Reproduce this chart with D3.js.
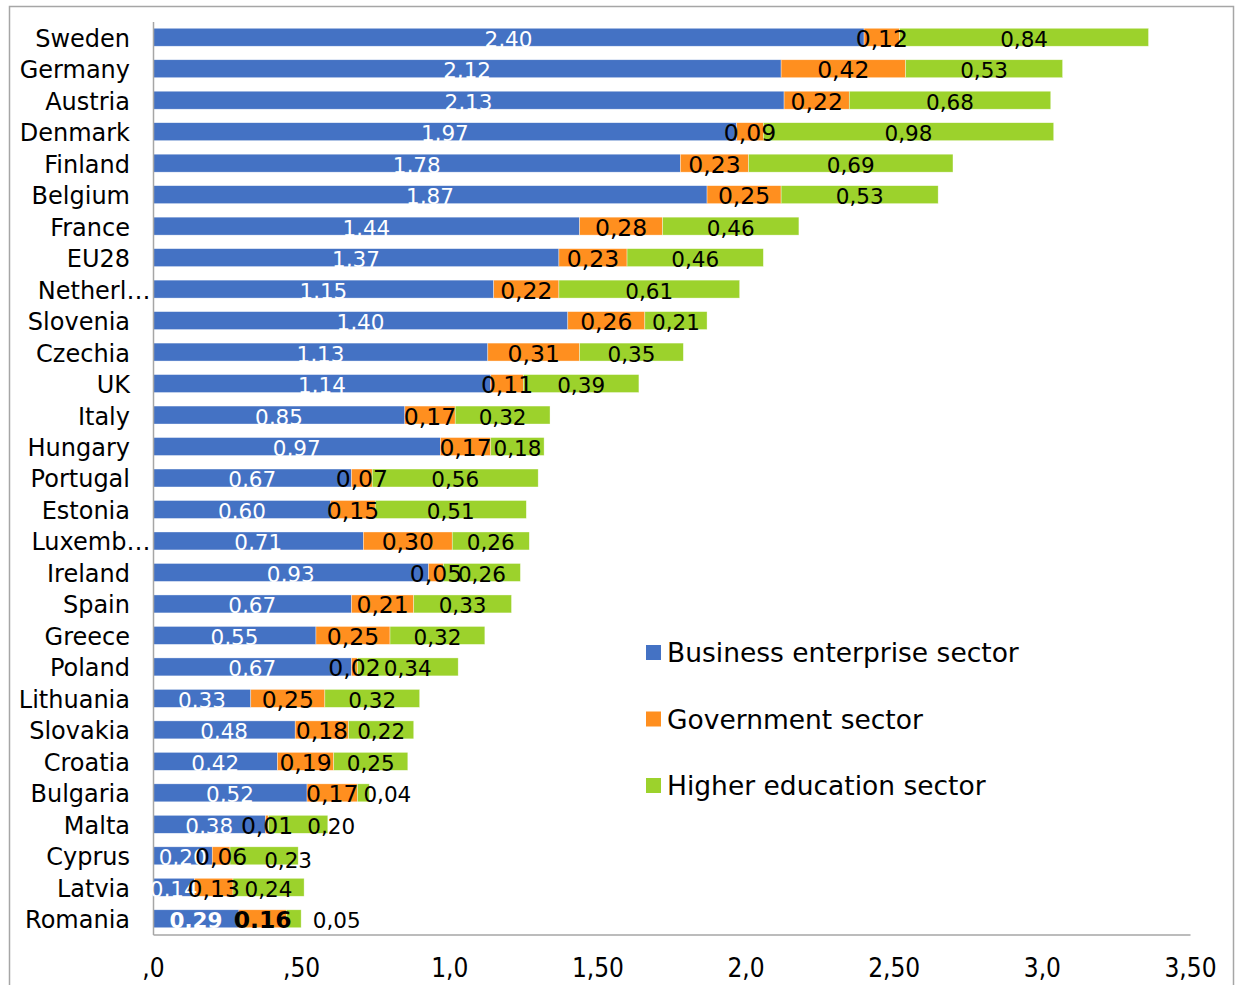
<!DOCTYPE html>
<html>
<head>
<meta charset="utf-8">
<script src="https://cdn.jsdelivr.net/npm/d3@7"></script>
<style>
  html, body { margin: 0; padding: 0; background: #fff; }
  svg { display: block; }
</style>
</head>
<body>
<svg id="chart" width="1237" height="985"></svg>
<script>
const categories = ["Sweden","Germany","Austria","Denmark","Finland","Belgium","France","EU28","Netherl…","Slovenia","Czechia","UK","Italy","Hungary","Portugal","Estonia","Luxemb…","Ireland","Spain","Greece","Poland","Lithuania","Slovakia","Croatia","Bulgaria","Malta","Cyprus","Latvia","Romania"];
const business   = [2.40,2.12,2.13,1.97,1.78,1.87,1.44,1.37,1.15,1.40,1.13,1.14,0.85,0.97,0.67,0.60,0.71,0.93,0.67,0.55,0.67,0.33,0.48,0.42,0.52,0.38,0.20,0.14,0.29];
const government = [0.12,0.42,0.22,0.09,0.23,0.25,0.28,0.23,0.22,0.26,0.31,0.11,0.17,0.17,0.07,0.15,0.30,0.05,0.21,0.25,0.02,0.25,0.18,0.19,0.17,0.01,0.06,0.13,0.16];
const higherEdu  = [0.84,0.53,0.68,0.98,0.69,0.53,0.46,0.46,0.61,0.21,0.35,0.39,0.32,0.18,0.56,0.51,0.26,0.26,0.33,0.32,0.34,0.32,0.22,0.25,0.04,0.20,0.23,0.24,0.05];
const seriesNames = ["Business enterprise sector","Government sector","Higher education sector"];
const tickValues = [0,0.5,1.0,1.5,2.0,2.5,3.0,3.5];
const tickLabels = [",0",",50","1,0","1,50","2,0","2,50","3,0","3,50"];
// Romania row labels as printed in the source
const romaniaLabels = ["0,29","0.16","0,05"];

// styling: manually moved data labels in the source (horizontal / vertical nudges in px)
const labelNudges = [
  {cat:"Bulgaria", series:2, dx:24, dy:0},
  {cat:"Malta",    series:2, dx:33, dy:0},
  {cat:"Cyprus",   series:2, dx:24, dy:3},
  {cat:"Romania",  series:2, dx:43, dy:0}
];
const colors = ["#4472C4","#FF8F1F","#9CD22C"];
const labelSizes = [21.5, 23.5, 21.5];

const svg = d3.select("#chart");

// outer frame
svg.append("rect").attr("x",9.5).attr("y",6.5).attr("width",1224).attr("height",990)
  .attr("fill","none").attr("stroke","#a6a6a6").attr("stroke-width",1.5);

const x = d3.scaleLinear().domain([0,3.5]).range([153,1190]);
const y = d3.scaleBand().domain(categories).range([21.5,934.5]).paddingInner(0.43).paddingOuter(0.215);

const rows = categories.map((c,i)=>({cat:c, vals:[business[i],government[i],higherEdu[i]]}));
const stack = d3.stack().keys([0,1,2]).value((d,k)=>d.vals[k]);
const stacked = stack(rows);

const gBars = svg.append("g");
stacked.forEach((layer,k)=>{
  gBars.selectAll(null).data(layer).enter().append("rect")
    .attr("x",d=>x(d[0]))
    .attr("y",d=>y(d.data.cat))
    .attr("width",d=>x(d[1])-x(d[0]))
    .attr("height",y.bandwidth())
    .attr("fill",colors[k])
    .attr("stroke","#ffffff").attr("stroke-opacity",0.6).attr("stroke-width",0.6);
});

// axes
const xAxis = d3.axisBottom(x).tickValues(tickValues)
  .tickFormat((d,i)=>tickLabels[i]).tickSize(0).tickSizeOuter(0).tickPadding(24);
const gx = svg.append("g").attr("transform","translate(0,934.5)").call(xAxis);
gx.select(".domain").attr("stroke","#a6a6a6").attr("stroke-width",1.5);
gx.selectAll("text").attr("font-family","'Liberation Sans Narrow', 'DejaVu Sans Condensed', sans-serif")
  .attr("font-size",26).attr("fill","#000");

const yAxis = d3.axisLeft(y).tickSize(0).tickSizeOuter(0).tickPadding(23);
const gy = svg.append("g").attr("transform","translate(153,0)").call(yAxis);
gy.select(".domain").attr("stroke","#a6a6a6").attr("stroke-width",1.5);
gy.selectAll("text").attr("font-family","'DejaVu Sans', Verdana, sans-serif")
  .attr("font-size",24).attr("fill","#000")
  .attr("dy",null).attr("dominant-baseline","alphabetic")
  .attr("y", y.bandwidth()/2 + 0.5)
  .each(function(d){
    // truncated names: the ellipsis hangs past the normal right edge
    if (d.endsWith("…")) {
      const n = this.getNumberOfChars();
      const w = this.getSubStringLength(n-1,1);
      d3.select(this).attr("x", -23 + w*0.85);
    }
  });

// value labels
const fmt = v => d3.format(".2f")(v).replace(".",",");
const gLab = svg.append("g").attr("font-family","'DejaVu Sans', Verdana, sans-serif");
stacked.forEach((layer,k)=>{
  layer.forEach(d=>{
    const isRo = d.data.cat === "Romania";
    const nudge = labelNudges.find(n=>n.cat===d.data.cat && n.series===k);
    const cx = (x(d[0])+x(d[1]))/2 + (nudge ? nudge.dx : 0);
    gLab.append("text")
      .attr("x",cx)
      .attr("y",y(d.data.cat)+y.bandwidth()+0.5 + (nudge ? nudge.dy : 0))
      .attr("text-anchor","middle")
      .attr("font-size",labelSizes[k])
      .attr("fill", k===0 ? "#ffffff" : "#000000")
      .attr("font-weight", isRo && k<2 ? "bold" : "normal")
      .text(isRo ? romaniaLabels[k] : fmt(d.data.vals[k]));
  });
});

// legend
const leg = svg.append("g").attr("transform","translate(646,645)");
seriesNames.forEach((n,i)=>{
  const g = leg.append("g").attr("transform",`translate(0,${i*66.5})`);
  g.append("rect").attr("width",15).attr("height",15).attr("fill",colors[i]);
  g.append("text").attr("x",21).attr("y",17).attr("font-family","'DejaVu Sans', Verdana, sans-serif")
    .attr("font-size",26.5).attr("fill","#000").text(n);
});
</script>
</body>
</html>
